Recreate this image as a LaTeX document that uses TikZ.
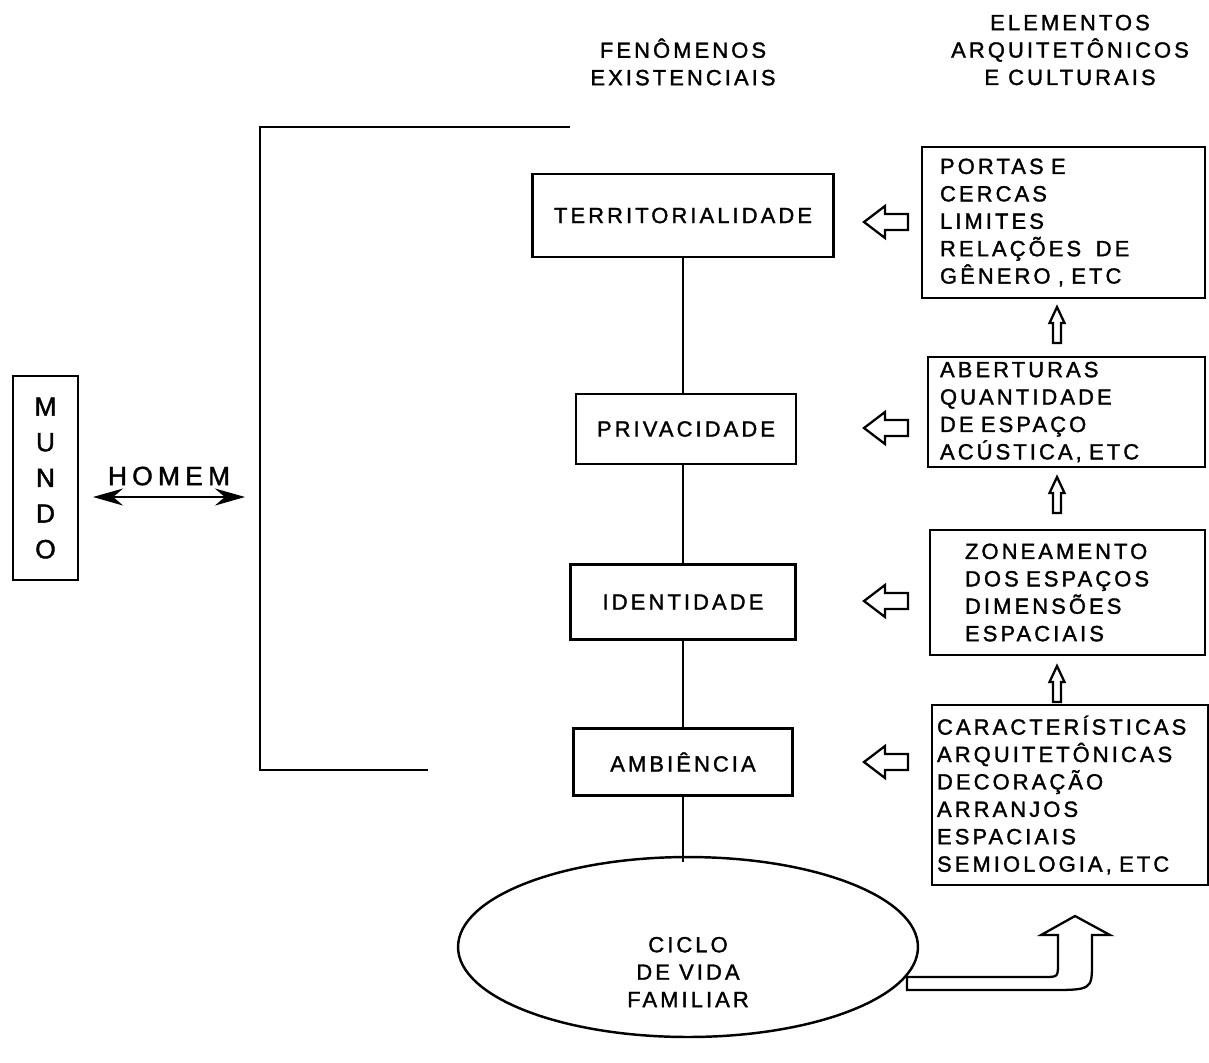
\documentclass[tikz,border=0pt]{standalone}
\usepackage{fontspec}
\setmainfont[LetterSpace=14, FakeBold=1.5]{Liberation Sans}
\usetikzlibrary{arrows.meta,shapes,positioning,calc}

\begin{document}
\begin{tikzpicture}[
        x=0.02cm, y=-0.02cm,
        line width=1.4pt,
        % Estilo para os fenômenos existenciais
        fenomeno style/.style = {
            draw,
            rectangle,
            align=center,
            font=\fontsize{12.5}{15.6}\selectfont
        },
        % Estilo para os elementos arquitetônicos
        elemento style/.style = {
            draw,
            rectangle,
            align=left,
            inner ysep=0pt,
            font=\fontsize{12.5}{15.6}\selectfont
        },
        % Estilo dos títulos
        titulo style/.style = {
            align=center,
            font=\fontsize{12.5}{15.6}\selectfont
        }
    ]
    \tikzset{
        seta vazada/.style={draw, line width=1.3pt, line join=miter, fill=white},
        seta esquerda/.pic={
            \path[seta vazada] (0,0) -- (21,-16) -- (21,-8) -- (44,-8)
                -- (44,8) -- (21,8) -- (21,16) -- cycle;
        },
        seta cima/.pic={
            \path[seta vazada] (0,0) -- (7.5,16) -- (4,16) -- (4,36)
                -- (-4,36) -- (-4,16) -- (-7.5,16) -- cycle;
        }
    }
    \useasboundingbox (0,0) rectangle (1209,1062);

    % Títulos
    \node[titulo style] (fenomenos) at (683,62) {FENÔMENOS\\EXISTENCIAIS};
    \node[titulo style] (elementos) at (1070,50) {ELEMENTOS\\ARQUITETÔNICOS\\E CULTURAIS};

    % Mundo e homem
    \node[draw, align=center, minimum width=1.3cm, minimum height=4.08cm,
          font=\fontsize{15}{20.3}\selectfont] (mundo) at (45.5,478) {M\\U\\N\\D\\O};
    \node[font=\fontsize{15}{17}\selectfont\addfontfeature{LetterSpace=20}] (homem) at (169,476) {HOMEM};
    \coordinate (homemEsq) at (93,497);
    \coordinate (homemDir) at (245,497);
    \draw[line width=1.1pt, {Stealth[length=0.6cm,width=0.34cm]}-{Stealth[length=0.6cm,width=0.34cm]}]
        (homemEsq) -- (homemDir);

    % Chave
    \coordinate (chaveTopo) at (570,127);
    \coordinate (chaveCanto) at (260,127);
    \coordinate (chaveBase) at (428,770);
    \draw (chaveTopo) -- (chaveCanto) |- (chaveBase);

    % Fenômenos existenciais
    \node[fenomeno style, minimum width=6.02cm, minimum height=1.66cm] (territ) at (683,215.5) {TERRITORIALIDADE};
    \node[fenomeno style, minimum width=4.4cm, minimum height=1.4cm] (privac) at (686,429) {PRIVACIDADE};
    \node[fenomeno style, minimum width=4.5cm, minimum height=1.5cm] (ident) at (683,602) {IDENTIDADE};
    \node[fenomeno style, minimum width=4.38cm, minimum height=1.34cm] (ambienc) at (683,762) {AMBIÊNCIA};
    \coordinate (linhaFim) at (683,862);
    \draw (territ.south -| ident.north) -- (privac.north -| ident.north);
    \draw (privac.south -| ident.north) -- (ident.north);
    \draw (ident.south) -- (ambienc.north);
    \draw (ambienc.south) -- (linhaFim);

    % Ciclo de vida
    \node[draw, ellipse, minimum width=9.2cm, minimum height=3.6cm] (ciclo) at (688,947) {};
    \node[titulo style] (ciclotexto) at (688,972) {CICLO\\DE VIDA\\FAMILIAR};

    % Elementos arquitetônicos e culturais
    \node[elemento style, inner xsep=0.36cm, text width=4.94cm, minimum height=3.02cm] (portas) at (1063.5,222.5)
        {PORTAS\ E\\CERCAS\\LIMITES\\RELAÇÕES \ DE\\GÊNERO\ , ETC};
    \node[elemento style, inner xsep=0.24cm, text width=5.06cm, minimum height=2.2cm] (aberturas) at (1066.5,412)
        {ABERTURAS\\QUANTIDADE\\DE ESPAÇO\\ACÚSTICA, ETC};
    \node[elemento style, inner xsep=0.7cm, text width=4.1cm, minimum height=2.5cm] (zoneam) at (1067.5,592.5)
        {ZONEAMENTO\\DOS ESPAÇOS\\DIMENSÕES\\ESPACIAIS};
    \node[elemento style, inner xsep=0.1cm, text width=5.32cm, minimum height=3.6cm] (caract) at (1070,795)
        {CARACTERÍSTICAS\\ARQUITETÔNICAS\\DECORAÇÃO\\ARRANJOS\\ESPACIAIS\\SEMIOLOGIA, ETC};

    % Setas vazadas
    \pic at (864,222) {seta esquerda};
    \pic at (864,428) {seta esquerda};
    \pic at (864,601) {seta esquerda};
    \pic at (864,762) {seta esquerda};
    \pic at (1057,307) {seta cima};
    \pic at (1057,477) {seta cima};
    \pic at (1057,666) {seta cima};

    % Seta curva
    \path[seta vazada] (907,977) -- (1044,977) .. controls (1058,977) .. (1058,963)
        -- (1058,935) -- (1041,935) -- (1075,916) -- (1110,935) -- (1092,935)
        -- (1092,962) .. controls (1092,990) .. (1048,990) -- (907,990) -- cycle;
\end{tikzpicture}
\end{document}
